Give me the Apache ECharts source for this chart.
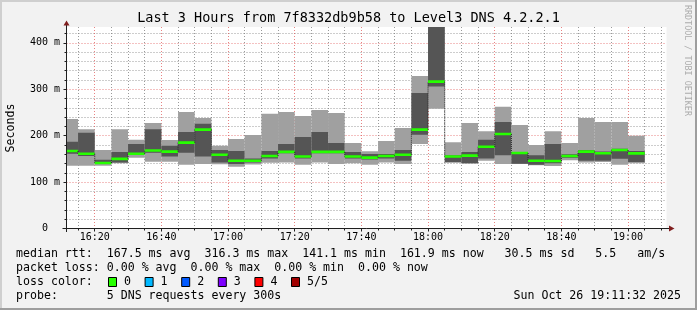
<!DOCTYPE html>
<html><head><meta charset="utf-8">
<script src="https://cdn.jsdelivr.net/npm/echarts@6/dist/echarts.min.js"></script>
<style>html,body{margin:0;padding:0;background:#f2f2f2;overflow:hidden}#c{width:697px;height:310px}</style>
</head><body><div id="c"></div>
<script>
// ---- data (5-minute bins, values in ms) ----
const binTimes = ['16:10','16:15','16:20','16:25','16:30','16:35','16:40','16:45','16:50','16:55',
  '17:00','17:05','17:10','17:15','17:20','17:25','17:30','17:35','17:40','17:45',
  '17:50','17:55','18:00','18:05','18:10','18:15','18:20','18:25','18:30','18:35',
  '18:40','18:45','18:50','18:55','19:00'];
const pingMin = [135,135,135,140.5,152.6,144,144,137.5,139,138.5,133,138,141.5,142,137.5,142,139,140.5,137.5,142,
  139,182,258,142,140,146,139,139,136,134.7,147,142,143,137.5,140.5];
const ping2 = [161,156,140.5,142,160,163,155,163,155,142,139,142,151,162,151,162,162,151,148.5,151,
  146,202,305.6,142.5,140.5,151,158,139.5,137.5,140.5,152.6,146,146,150.5,143];
const median = [167,161,141.1,150,161,168,165.5,185,213,159,146,146,156,165,155,165,165,155,152.6,156,
  159,213,316.3,155,157,176,203.7,162.7,146,145.5,156,165.6,162,169,161.9];
const ping4 = [187,206,148,165,182,214,178.5,208,225.5,169,167,151,167,182,197,208,184,165,160.5,160.5,
  169,292,434,158,165,191,229.5,163,158,182,160,169,166,172,167];
const pingMax = [236,214,169,214,191,227,190.5,251,238,178,193,201.5,247,251,242.5,255,249,184,166.5,188.6,
  216.6,328.6,434,186,227,209.5,262,223,180,209.5,184,238,229.5,229.5,200];

const xMajorLabels = ['16:20','16:40','17:00','17:20','17:40','18:00','18:20','18:40','19:00'];
const yMajorValues = [0,100,200,300,400];
const plotStart = '16:11:32', plotEnd = '19:11:32';
const yMax = 434;

const titleText = 'Last 3 Hours from 7f8332db9b58 to Level3 DNS 4.2.2.1';
const legendRow1 = 'median rtt:  167.5 ms avg  316.3 ms max  141.1 ms min  161.9 ms now   30.5 ms sd   5.5   am/s';
const legendRow2 = 'packet loss: 0.00 % avg  0.00 % max  0.00 % min  0.00 % now';
const legendRow3 = 'loss color:';
const lossLabels = ['0','1','2','3','4','5/5'];
const lossColors = ['#26ff00','#00b8ff','#0059ff','#7e00ff','#ff0000','#a10000'];
const legendRow4 = 'probe:       5 DNS requests every 300s';
const dateText = 'Sun Oct 26 19:11:32 2025';
const watermark = 'RRDTOOL / TOBI OETIKER';

// ---- helpers ----
const toMin = s => { const p = s.split(':').map(Number); return p[0]*60 + p[1] + (p[2]||0)/60; };
const X_MIN = toMin(plotStart), X_MAX = toMin(plotEnd);
const xMajor = xMajorLabels.map(toMin);
const xMinor = [];
for (let m = Math.ceil(X_MIN/5)*5; m <= X_MAX; m += 5) if (m % 20 !== 0) xMinor.push(m);
const yMinor = [];
for (let v = 20; v < yMax; v += 20) if (v % 100 !== 0) yMinor.push(v);
const fmtTime = v => { const h = Math.floor(v/60), m = Math.round(v - h*60); return h + ':' + String(m).padStart(2,'0'); };

const smokeData = binTimes.map((t,i) => [toMin(t), toMin(t)+5, pingMin[i], ping2[i], median[i], ping4[i], pingMax[i]]);
const medData = binTimes.map((t,i) => [toMin(t), toMin(t)+5, median[i], i>0 ? median[i-1] : median[i]]);

const MONO = '"DejaVu Sans Mono", monospace';

function renderSmoke(params, api) {
  const x0 = api.coord([api.value(0), 0])[0];
  const x1 = api.coord([api.value(1), 0])[0];
  const y = k => api.coord([api.value(0), api.value(k)])[1];
  const yMn = y(2), y2 = y(3), y4 = y(5), yMx = y(6);
  return { type: 'group', children: [
    { type: 'rect', shape: { x: x0, y: yMx, width: x1 - x0, height: yMn - yMx }, style: { fill: '#a0a0a0' } },
    { type: 'rect', shape: { x: x0, y: y4, width: x1 - x0, height: y2 - y4 }, style: { fill: '#555555' } }
  ]};
}
function renderMedian(params, api) {
  const x0 = api.coord([api.value(0), 0])[0];
  const x1 = api.coord([api.value(1), 0])[0];
  const ym = api.coord([api.value(0), api.value(2)])[1];
  const yp = api.coord([api.value(0), api.value(3)])[1];
  return { type: 'group', children: [
    { type: 'line', shape: { x1: x0, y1: yp, x2: x0, y2: ym }, style: { stroke: '#202020', lineWidth: 1, lineDash: [1,1] } },
    { type: 'rect', shape: { x: x0, y: ym - 1.3, width: x1 - x0, height: 2.6 }, style: { fill: '#26ff00' } }
  ]};
}

const gridL = 66.5, gridT = 27, gridW = 600, gridH = 201.5;
const minorLine = { show: true, lineStyle: { color: 'rgba(120,120,120,0.75)', type: [1,2], width: 1 } };
const majorLine = { show: true, lineStyle: { color: 'rgba(222,79,79,0.7)', type: [1,2], width: 1 } };

const graphics = [
  { type: 'rect', shape: { x: 0, y: 0, width: 697, height: 2 }, style: { fill: '#cfcfcf' }, z: 1 },
  { type: 'rect', shape: { x: 0, y: 0, width: 2, height: 310 }, style: { fill: '#cfcfcf' }, z: 1 },
  { type: 'rect', shape: { x: 0, y: 308, width: 697, height: 2 }, style: { fill: '#9e9e9e' }, z: 1 },
  { type: 'rect', shape: { x: 695, y: 0, width: 2, height: 310 }, style: { fill: '#9e9e9e' }, z: 1 },
  { type: 'line', shape: { x1: gridL, y1: 232, x2: gridL, y2: 24 }, style: { stroke: '#1f1f1f', lineWidth: 1 }, z: 50 },
  { type: 'polygon', shape: { points: [[63.5,25.5],[69.5,25.5],[66.5,20.5]] }, style: { fill: '#801f1f' }, z: 51 },
  { type: 'line', shape: { x1: 62.5, y1: 228.5, x2: 670, y2: 228.5 }, style: { stroke: '#1f1f1f', lineWidth: 1 }, z: 50 },
  { type: 'polygon', shape: { points: [[669,225.5],[669,231.5],[674.5,228.5]] }, style: { fill: '#801f1f' }, z: 51 },
  { type: 'text', x: 348.5, y: 18.5, style: { text: titleText, font: '13.5px ' + MONO, fill: '#000', align: 'center', verticalAlign: 'middle' }, z: 60 },
  { type: 'text', x: 10.5, y: 128, rotation: Math.PI/2, style: { text: 'Seconds', font: '11.6px ' + MONO, fill: '#000', align: 'center', verticalAlign: 'middle' }, z: 60 },
  { type: 'text', x: 687, y: 5, rotation: -Math.PI/2, style: { text: watermark, font: '8.4px ' + MONO, fill: '#acacac', align: 'left', verticalAlign: 'middle' }, z: 60 },
  { type: 'text', x: 16, y: 254, style: { text: legendRow1, font: '11.6px ' + MONO, fill: '#000', align: 'left', verticalAlign: 'middle' }, z: 60 },
  { type: 'text', x: 16, y: 268, style: { text: legendRow2, font: '11.6px ' + MONO, fill: '#000', align: 'left', verticalAlign: 'middle' }, z: 60 },
  { type: 'text', x: 16, y: 282, style: { text: legendRow3, font: '11.6px ' + MONO, fill: '#000', align: 'left', verticalAlign: 'middle' }, z: 60 },
  { type: 'text', x: 16, y: 296, style: { text: legendRow4, font: '11.6px ' + MONO, fill: '#000', align: 'left', verticalAlign: 'middle' }, z: 60 },
  { type: 'text', x: 681, y: 296, style: { text: dateText, font: '11.6px ' + MONO, fill: '#000', align: 'right', verticalAlign: 'middle' }, z: 60 }
];
lossLabels.forEach((lab, i) => {
  const bx = 108 + i * 36.6;
  graphics.push({ type: 'rect', shape: { x: bx + 0.5, y: 277.5, width: 8, height: 9 }, style: { fill: lossColors[i], stroke: '#000', lineWidth: 1 }, z: 60 });
  graphics.push({ type: 'text', x: bx + 16, y: 282, style: { text: lab, font: '11.6px ' + MONO, fill: '#000', align: 'left', verticalAlign: 'middle' }, z: 60 });
});

const chart = echarts.init(document.getElementById('c'), null, { renderer: 'canvas', devicePixelRatio: 1 });
chart.setOption({
  animation: false,
  backgroundColor: '#f2f2f2',
  grid: { left: gridL, top: gridT, width: gridW, height: gridH, show: true, backgroundColor: '#ffffff', borderWidth: 0, containLabel: false, z: 0 },
  xAxis: [
    { type: 'value', min: X_MIN, max: X_MAX, position: 'bottom', z: 1,
      axisLine: { show: false }, axisLabel: { show: false },
      axisTick: { show: true, length: 2, customValues: xMinor, lineStyle: { color: '#1f1f1f' } },
      splitLine: minorLine },
    { type: 'value', min: X_MIN, max: X_MAX, position: 'bottom', z: 1,
      axisLine: { show: false },
      axisTick: { show: true, length: 3, customValues: xMajor, lineStyle: { color: '#1f1f1f' } },
      axisLabel: { show: true, customValues: xMajor, formatter: v => fmtTime(v), margin: 4, color: '#000', fontFamily: MONO, fontSize: 10 },
      splitLine: majorLine }
  ],
  yAxis: [
    { type: 'value', min: 0, max: yMax, position: 'left', z: 1,
      axisLine: { show: false }, axisLabel: { show: false },
      axisTick: { show: true, length: 2, customValues: yMinor, lineStyle: { color: '#1f1f1f' } },
      splitLine: minorLine },
    { type: 'value', min: 0, max: yMax, position: 'left', z: 1,
      axisLine: { show: false },
      axisTick: { show: true, length: 3, customValues: yMajorValues, lineStyle: { color: '#1f1f1f' } },
      axisLabel: { show: true, customValues: yMajorValues, formatter: v => v === 0 ? '0  ' : v + ' m', margin: 6.5, color: '#000', fontFamily: MONO, fontSize: 10 },
      splitLine: majorLine }
  ],
  series: [
    { type: 'custom', name: 'smoke', xAxisIndex: 0, yAxisIndex: 0, renderItem: renderSmoke, data: smokeData, clip: true, z: 2,
      encode: { x: [0,1], y: [2,3,4,5,6] } },
    { type: 'custom', name: 'median', xAxisIndex: 0, yAxisIndex: 0, renderItem: renderMedian, data: medData, clip: true, z: 5,
      encode: { x: [0,1], y: [2,3] } }
  ],
  graphic: { elements: graphics }
});
</script></body></html>
